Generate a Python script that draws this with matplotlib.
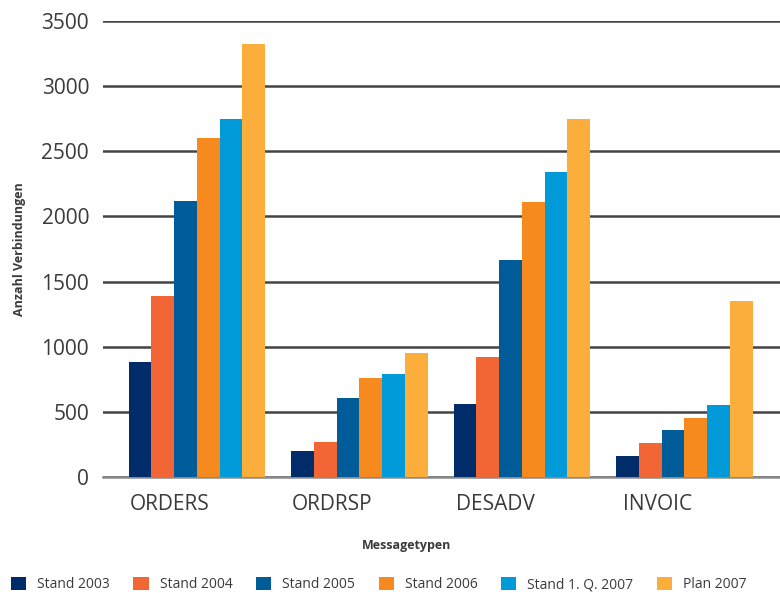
import numpy as np
import matplotlib
matplotlib.use('Agg')
import matplotlib.pyplot as plt

plt.rcParams['font.family'] = ['Open Sans', 'DejaVu Sans']

categories = ['ORDERS', 'ORDRSP', 'DESADV', 'INVOIC']
series = ['Stand 2003', 'Stand 2004', 'Stand 2005', 'Stand 2006', 'Stand 1. Q. 2007', 'Plan 2007']
values = {
    'Stand 2003': [880, 200, 560, 160],
    'Stand 2004': [1390, 270, 920, 260],
    'Stand 2005': [2120, 607, 1665, 360],
    'Stand 2006': [2605, 760, 2110, 453],
    'Stand 1. Q. 2007': [2745, 790, 2340, 553],
    'Plan 2007': [3325, 952, 2748, 1350],
}
colors = ['#002d6a', '#f26535', '#005b99', '#f68a1f', '#009ad8', '#fbae3c']

txt = '#3a3a3a'
fig = plt.figure(figsize=(7.8, 5.93), dpi=100)
ax = fig.add_axes([103 / 780, 1 - 477 / 593, 1 - 103 / 780, (477 - 21) / 593])

x = np.arange(len(categories))
w = 0.14
handles = []
for i, s in enumerate(series):
    b = ax.bar(x + (i - 2.5) * w, values[s], width=w, color=colors[i], label=s, zorder=3)
    handles.append(b)

ax.set_ylim(0, 3500)
ax.set_xlim(-0.578, 3.588)
ax.set_yticks(range(0, 3501, 500))
ax.yaxis.grid(True, color='#444444', linewidth=1.8, zorder=1)
ax.set_axisbelow(True)
for sp in ['top', 'right', 'left']:
    ax.spines[sp].set_visible(False)
ax.spines['bottom'].set_color('#8a8a8a')
ax.spines['bottom'].set_linewidth(1.8)
ax.tick_params(axis='both', length=0, labelsize=15, colors=txt)
ax.tick_params(axis='y', pad=10)
ax.set_xticks(x - 0.166)
ax.set_xticklabels(categories)
ax.tick_params(axis='x', pad=12)

ax.set_xlabel('Messagetypen', fontsize=9, fontweight='bold', color=txt)
ax.set_ylabel('Anzahl Verbindungen', fontsize=9, fontweight='bold', color=txt)
ax.xaxis.set_label_coords((407 - 103) / 677, -0.135)
ax.yaxis.set_label_coords(-0.113, 0.5)

fig.legend(handles=handles, labels=series, loc='lower left', bbox_to_anchor=(0.007, -0.008),
           borderaxespad=0, ncol=6, frameon=False, fontsize=10, handlelength=1.1,
           handleheight=1.1, handletextpad=0.8, columnspacing=1.68, labelcolor=txt)

fig.savefig('out.png', dpi=100)
